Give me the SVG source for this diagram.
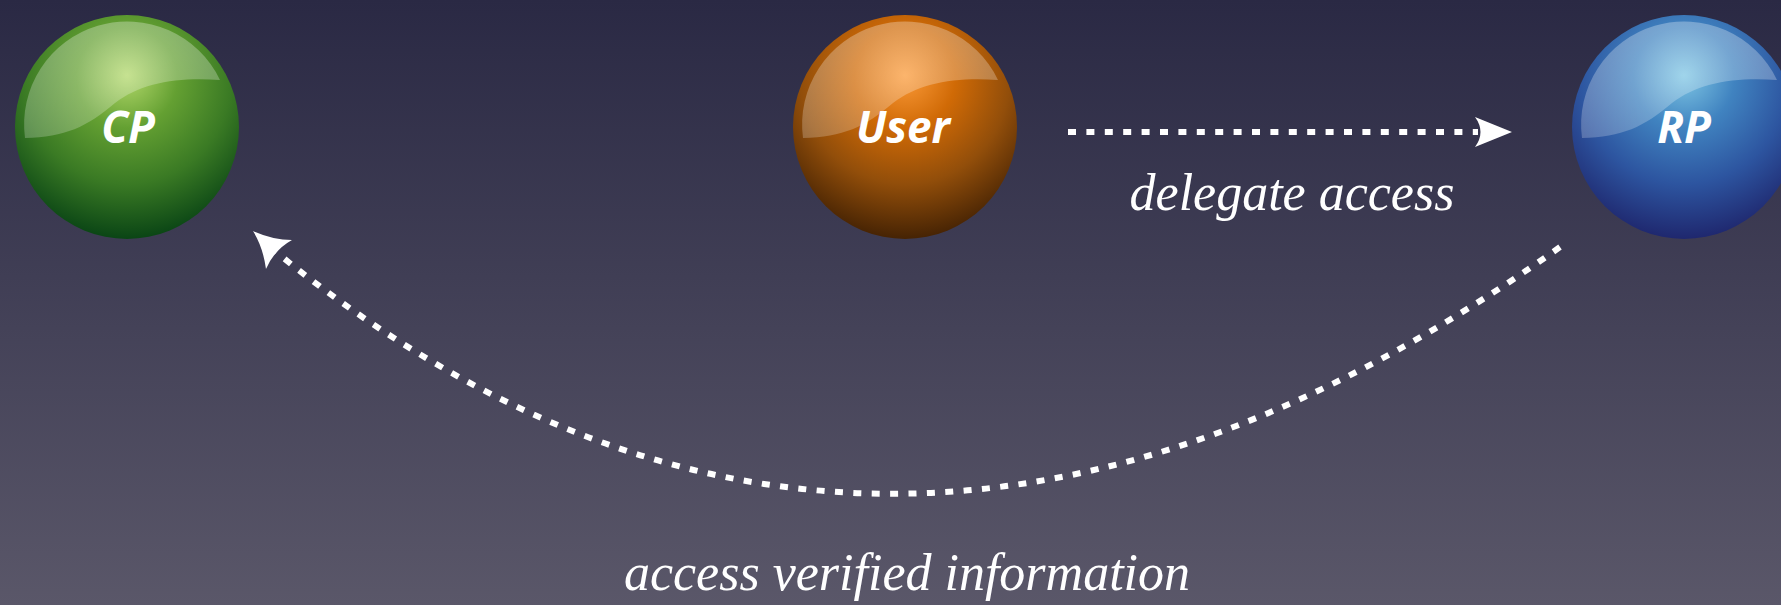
<svg xmlns="http://www.w3.org/2000/svg" width="1781" height="605" viewBox="0 0 1781 605">
<defs>
<linearGradient id="bg" x1="0" y1="0" x2="0" y2="1">
<stop offset="0" stop-color="#2a2944"/>
<stop offset="1" stop-color="#5a5769"/>
</linearGradient>
<radialGradient id="gCP" cx="0.5" cy="0.3" r="0.75" fx="0.5" fy="0.27">
<stop offset="0" stop-color="#b2d86a"/>
<stop offset="0.3" stop-color="#64a032"/>
<stop offset="0.62" stop-color="#3a7a24"/>
<stop offset="1" stop-color="#003a12"/>
</radialGradient>
<radialGradient id="gUser" cx="0.5" cy="0.3" r="0.75" fx="0.5" fy="0.27">
<stop offset="0" stop-color="#fb9a38"/>
<stop offset="0.3" stop-color="#d06a06"/>
<stop offset="0.62" stop-color="#924e0a"/>
<stop offset="1" stop-color="#361a02"/>
</radialGradient>
<radialGradient id="gRP" cx="0.5" cy="0.3" r="0.75" fx="0.5" fy="0.27">
<stop offset="0" stop-color="#7ec6e4"/>
<stop offset="0.3" stop-color="#4083c0"/>
<stop offset="0.62" stop-color="#2d55a0"/>
<stop offset="1" stop-color="#1c1e64"/>
</radialGradient>
<linearGradient id="hl" x1="0" y1="0" x2="0" y2="1">
<stop offset="0" stop-color="#ffffff" stop-opacity="0.3"/>
<stop offset="1" stop-color="#ffffff" stop-opacity="0.22"/>
</linearGradient>
<path id="gloss" d="M-102,11 C-62,10 -40,0 -12,-24 C14,-44 50,-50 93,-47 A103,103 0 0 0 -102,11 Z"/>
</defs>
<style>
.lbl{font-family:"Open Sans","Liberation Sans",sans-serif;font-weight:700;font-style:italic;font-size:44px;fill:#ffffff;text-anchor:middle}
.cap{font-family:"Liberation Serif","Times New Roman",serif;font-style:italic;font-size:52px;fill:#ffffff;text-anchor:middle}
.dash{fill:none;stroke:#ffffff;stroke-width:6;stroke-dasharray:8 10.4}
.head{fill:#ffffff}
</style>
<rect x="0" y="0" width="1781" height="605" fill="url(#bg)"/>
<g id="node-cp" transform="translate(127,127)">
<circle r="112" fill="url(#gCP)"/>
<use href="#gloss" fill="url(#hl)"/>
<text class="lbl" x="1" y="16">CP</text>
</g>
<g id="node-user" transform="translate(905,127)">
<circle r="112" fill="url(#gUser)"/>
<use href="#gloss" fill="url(#hl)"/>
<text class="lbl" x="-2" y="16">User</text>
</g>
<g id="node-rp" transform="translate(1684,127)">
<circle r="112" fill="url(#gRP)"/>
<use href="#gloss" fill="url(#hl)"/>
<text class="lbl" x="0" y="16">RP</text>
</g>
<g id="connectors">
<g id="edge-delegate">
<line class="dash" x1="1068" y1="132" x2="1478" y2="132"/>
<path class="head" d="M1512,132 L1475,117 Q1486,132 1475,147 Z"/>
<text class="cap" x="1292" y="210" font-size="50">delegate access</text>
</g>
<g id="edge-access">
<path class="dash" d="M1560,247 Q872,738 276,252"/>
<path class="head" d="M253,231 Q273,240 292,240 Q274,250 266,269 Q263,247 253,231 Z"/>
<text class="cap" x="907" y="590">access verified information</text>
</g>
</g>
</svg>
